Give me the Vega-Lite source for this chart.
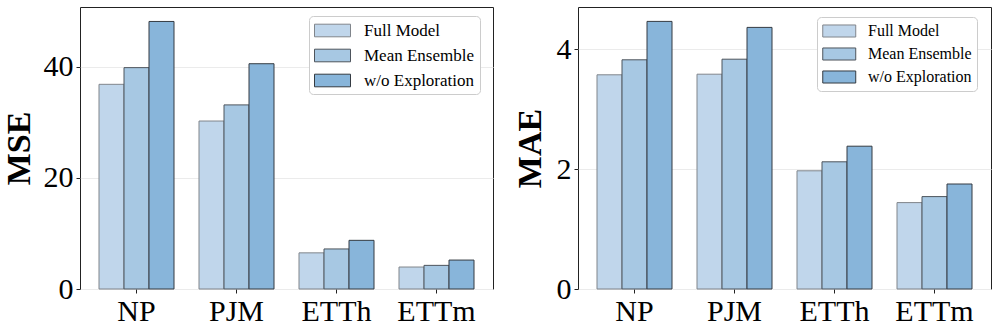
{
  "$schema": "https://vega.github.io/schema/vega-lite/v6.json",
  "padding": {"left": 1, "top": 6, "right": 0, "bottom": 0},
  "datasets": {
    "d": [
      {"metric": "MSE", "dataset": "NP", "model": "Full Model", "value": 36.8},
      {"metric": "MSE", "dataset": "NP", "model": "Mean Ensemble", "value": 39.8},
      {"metric": "MSE", "dataset": "NP", "model": "w/o Exploration", "value": 48.1},
      {"metric": "MSE", "dataset": "PJM", "model": "Full Model", "value": 30.2},
      {"metric": "MSE", "dataset": "PJM", "model": "Mean Ensemble", "value": 33.1},
      {"metric": "MSE", "dataset": "PJM", "model": "w/o Exploration", "value": 40.5},
      {"metric": "MSE", "dataset": "ETTh", "model": "Full Model", "value": 6.5},
      {"metric": "MSE", "dataset": "ETTh", "model": "Mean Ensemble", "value": 7.2},
      {"metric": "MSE", "dataset": "ETTh", "model": "w/o Exploration", "value": 8.75},
      {"metric": "MSE", "dataset": "ETTm", "model": "Full Model", "value": 3.95},
      {"metric": "MSE", "dataset": "ETTm", "model": "Mean Ensemble", "value": 4.25},
      {"metric": "MSE", "dataset": "ETTm", "model": "w/o Exploration", "value": 5.2},
      {"metric": "MAE", "dataset": "NP", "model": "Full Model", "value": 3.57},
      {"metric": "MAE", "dataset": "NP", "model": "Mean Ensemble", "value": 3.82},
      {"metric": "MAE", "dataset": "NP", "model": "w/o Exploration", "value": 4.46},
      {"metric": "MAE", "dataset": "PJM", "model": "Full Model", "value": 3.58},
      {"metric": "MAE", "dataset": "PJM", "model": "Mean Ensemble", "value": 3.83},
      {"metric": "MAE", "dataset": "PJM", "model": "w/o Exploration", "value": 4.36},
      {"metric": "MAE", "dataset": "ETTh", "model": "Full Model", "value": 1.97},
      {"metric": "MAE", "dataset": "ETTh", "model": "Mean Ensemble", "value": 2.12},
      {"metric": "MAE", "dataset": "ETTh", "model": "w/o Exploration", "value": 2.38},
      {"metric": "MAE", "dataset": "ETTm", "model": "Full Model", "value": 1.44},
      {"metric": "MAE", "dataset": "ETTm", "model": "Mean Ensemble", "value": 1.54},
      {"metric": "MAE", "dataset": "ETTm", "model": "w/o Exploration", "value": 1.75}
    ]
  },
  "config": {
    "font": "Liberation Serif",
    "view": {"stroke": "#222222", "strokeWidth": 1},
    "axis": {
      "labelFont": "Liberation Serif", "labelFontSize": 30, "labelColor": "black",
      "tickColor": "#222222", "tickSize": 4, "domain": false,
      "titleFont": "Liberation Serif", "titleFontSize": 34, "titleFontWeight": "bold", "titleColor": "black"
    },
    "axisY": {"gridColor": "#ebebeb", "labelPadding": 3, "titlePadding": 7},
    "axisX": {"grid": false, "labelAngle": 0, "labelPadding": 3},
    "legend": {"labelFont": "Liberation Serif", "labelColor": "black"}
  },
  "spacing": 18,
  "resolve": {"scale": {"y": "independent"}, "legend": {"fill": "independent", "stroke": "independent"}},
  "hconcat": [
    {
      "data": {"name": "d"},
      "transform": [{"filter": "datum.metric === 'MSE'"}],
      "width": 413, "height": 282,
      "mark": {"type": "bar", "strokeWidth": 1},
      "encoding": {
        "x": {"field": "dataset", "type": "nominal", "sort": ["NP", "PJM", "ETTh", "ETTm"], "title": null,
              "scale": {"paddingInner": 0.25, "paddingOuter": 0.19}},
        "xOffset": {"field": "model", "type": "nominal", "sort": ["Full Model", "Mean Ensemble", "w/o Exploration"],
                    "scale": {"paddingInner": 0, "paddingOuter": 0}},
        "y": {"field": "value", "type": "quantitative", "title": "MSE",
              "scale": {"domain": [0, 50.7], "nice": false}, "axis": {"values": [0, 20, 40]}},
        "fill": {"field": "model", "type": "nominal",
                 "scale": {"domain": ["Full Model", "Mean Ensemble", "w/o Exploration"], "range": ["#c0d6eb", "#a7c8e3", "#88b5da"]},
                 "legend": {"orient": "none", "legendX": 229, "legendY": 9, "title": null,
                            "symbolType": "M-1,-0.7H3V0.7H-1Z", "symbolSize": 324, "symbolStrokeWidth": 1,
                            "labelFontSize": 17, "labelFont": "Liberation Serif", "labelColor": "black", "labelOffset": 31,
                            "rowPadding": 7, "padding": 5, "strokeColor": "#cccccc", "fillColor": "white", "cornerRadius": 4}},
        "stroke": {"field": "model", "type": "nominal",
                   "scale": {"domain": ["Full Model", "Mean Ensemble", "w/o Exploration"], "range": ["#80858b", "#4d545c", "#343b42"]},
                   "legend": {"orient": "none", "legendX": 229, "legendY": 9, "title": null,
                              "symbolType": "M-1,-0.7H3V0.7H-1Z", "symbolSize": 324, "symbolStrokeWidth": 1,
                              "labelFontSize": 17, "labelFont": "Liberation Serif", "labelColor": "black", "labelOffset": 31,
                              "rowPadding": 7, "padding": 5, "strokeColor": "#cccccc", "fillColor": "white", "cornerRadius": 4}}
      }
    },
    {
      "data": {"name": "d"},
      "transform": [{"filter": "datum.metric === 'MAE'"}],
      "width": 413, "height": 282,
      "mark": {"type": "bar", "strokeWidth": 1},
      "encoding": {
        "x": {"field": "dataset", "type": "nominal", "sort": ["NP", "PJM", "ETTh", "ETTm"], "title": null,
              "scale": {"paddingInner": 0.25, "paddingOuter": 0.19}},
        "xOffset": {"field": "model", "type": "nominal", "sort": ["Full Model", "Mean Ensemble", "w/o Exploration"],
                    "scale": {"paddingInner": 0, "paddingOuter": 0}},
        "y": {"field": "value", "type": "quantitative", "title": "MAE",
              "scale": {"domain": [0, 4.7], "nice": false}, "axis": {"values": [0, 2, 4], "titlePadding": 9}},
        "fill": {"field": "model", "type": "nominal",
                 "scale": {"domain": ["Full Model", "Mean Ensemble", "w/o Exploration"], "range": ["#c0d6eb", "#a7c8e3", "#88b5da"]},
                 "legend": {"orient": "none", "legendX": 239, "legendY": 10, "title": null,
                            "symbolType": "M-1,-0.73H3V0.73H-1Z", "symbolSize": 272, "symbolStrokeWidth": 1,
                            "labelFontSize": 16, "labelFont": "Liberation Serif", "labelColor": "black", "labelOffset": 28,
                            "rowPadding": 5, "padding": 5, "strokeColor": "#cccccc", "fillColor": "white", "cornerRadius": 4}},
        "stroke": {"field": "model", "type": "nominal",
                   "scale": {"domain": ["Full Model", "Mean Ensemble", "w/o Exploration"], "range": ["#80858b", "#4d545c", "#343b42"]},
                   "legend": {"orient": "none", "legendX": 239, "legendY": 10, "title": null,
                              "symbolType": "M-1,-0.73H3V0.73H-1Z", "symbolSize": 272, "symbolStrokeWidth": 1,
                              "labelFontSize": 16, "labelFont": "Liberation Serif", "labelColor": "black", "labelOffset": 28,
                              "rowPadding": 5, "padding": 5, "strokeColor": "#cccccc", "fillColor": "white", "cornerRadius": 4}}
      }
    }
  ]
}
